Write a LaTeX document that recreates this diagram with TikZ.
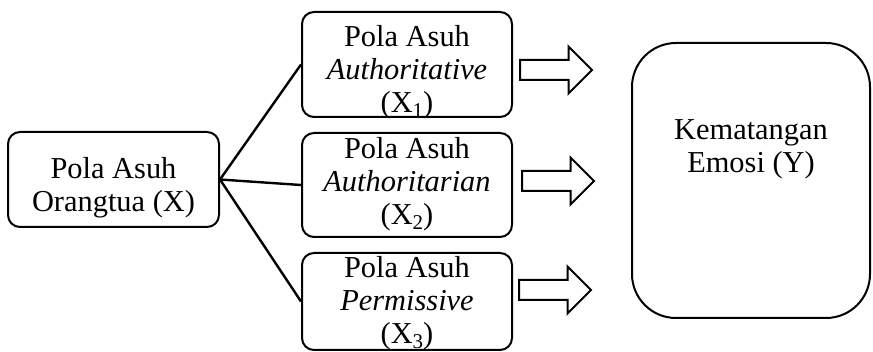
\documentclass[tikz,border=0pt]{standalone}
\usepackage{fontspec}
\setmainfont{Liberation Serif}
\usetikzlibrary{shapes.arrows}
\tikzstyle{pbox} = [draw, line width=1pt, rounded corners=6pt, inner sep=0pt, minimum width=105pt]
\tikzstyle{ptext} = [align=center, inner sep=0pt, font=\fontsize{15.2}{16.5}\selectfont]
\tikzstyle{link} = [line width=1.2pt]
\tikzstyle{blockarrow} = [draw, line width=1pt, single arrow, anchor=tail, minimum height=36pt,
    inner xsep=0pt, inner ysep=4.5pt, single arrow head extend=6.75pt]
\newcommand{\lowsub}[1]{\raisebox{-0.35ex}{\fontsize{10.5}{10.5}\selectfont #1}}

\begin{document}
\begin{tikzpicture}[x=0.5pt,y=-0.5pt]
    \useasboundingbox (0,0) rectangle (873,352);
    % left box
    \node[pbox, minimum width=105.5pt, minimum height=47.5pt] (ortu) at (113.5,179.5) {};
    \node[ptext] (ortutxt) at (113.5,188) {Pola Asuh\\Orangtua (X)};
    % three parenting styles
    \node[pbox, minimum height=52.5pt] (auth) at (407,64.5) {};
    \node[ptext] (authtxt) at (407,72.5) {Pola Asuh\\\textit{Authoritative}\\(X\lowsub{1})};
    \node[pbox, minimum height=52pt] (autr) at (407,185) {};
    \node[ptext] (autrtxt) at (407,184.5) {Pola Asuh\\\textit{Authoritarian}\\(X\lowsub{2})};
    \node[pbox, minimum height=48.5pt] (perm) at (407,301.5) {};
    \node[ptext] (permtxt) at (407,303.5) {Pola Asuh\\\textit{Permissive}\\(X\lowsub{3})};
    \foreach \b in {auth,autr,perm}{
        \draw[link] (ortu.east) -- (\b.west);
    }
    % block arrows
    \foreach \y/\x/\nm in {70/519/arrA,181/521/arrB,290/518/arrC}{
        \node[blockarrow] (\nm) at (\x,\y) {};
    }
    % outcome box
    \node[pbox, rounded corners=22pt, minimum width=119pt, minimum height=137.5pt] (emosi) at (751,180.5) {};
    \node[ptext] (emositxt) at (751,149) {Kematangan\\Emosi (Y)};
\end{tikzpicture}
\end{document}
